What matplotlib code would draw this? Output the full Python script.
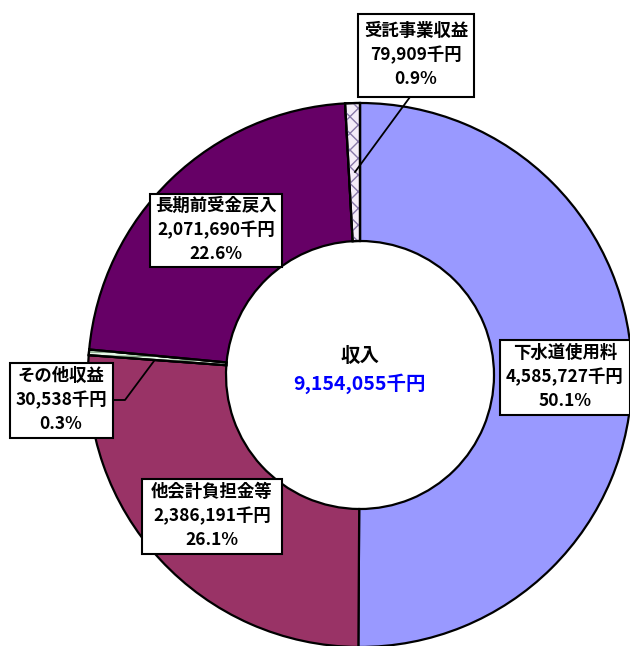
import matplotlib
matplotlib.use("Agg")
import matplotlib.pyplot as plt
from matplotlib.patches import Wedge

plt.rcParams['font.family'] = ['Noto Sans CJK JP', 'DejaVu Sans']

categories = ["下水道使用料", "他会計負担金等", "その他収益", "長期前受金戻入", "受託事業収益"]
values = [4585727, 2386191, 30538, 2071690, 79909]
pct_labels = ["50.1%", "26.1%", "0.3%", "22.6%", "0.9%"]
total_label = "9,154,055千円"
center_title = "収入"

colors = ["#9999FF", "#993366", "#E8F8E8", "#660066", "#F4ECF8"]
hatches = [None, None, "----", None, "xx"]
hatch_colors = [None, None, "#7FA07F", None, "#8878A8"]

W, H = 630, 646
fig = plt.figure(figsize=(W / 100, H / 100), dpi=100)
ax = fig.add_axes([0, 0, 1, 1])

cx, cy = 360, 375
R, r_in = 272, 134

# y axis is inverted (pixel coords), so startangle=-90 points up and
# counterclock=True runs clockwise on screen
wedges, _ = ax.pie(values, colors=colors, startangle=-90, counterclock=True,
                   center=(cx, cy), radius=R, frame=True,
                   wedgeprops=dict(width=R - r_in, edgecolor="black", linewidth=1.6))
ax.set_xlim(0, W)
ax.set_ylim(H, 0)
ax.set_aspect("equal")
ax.axis("off")

for w, h, hc in zip(wedges, hatches, hatch_colors):
    if h:
        ov = Wedge(w.center, w.r, w.theta1, w.theta2, width=w.width,
                   facecolor="none", edgecolor=hc, hatch=h, linewidth=0)
        ax.add_patch(ov)
        ol = Wedge(w.center, w.r, w.theta1, w.theta2, width=w.width,
                   facecolor="none", edgecolor="black", linewidth=1.6)
        ax.add_patch(ol)

# Center text
ax.text(cx, 357, center_title, ha="center", va="center", fontsize=14, fontweight="bold", color="black")
ax.text(cx, 384, total_label, ha="center", va="center", fontsize=14, fontweight="bold", color="#0000FF")

# Label boxes (pixel positions of box centres)
label_pos = [(565, 377), (212, 516), (61, 400), (216, 230), (416, 55)]
box_size = [(130, 75), (140, 75), (103, 75), (132, 73), (116, 83)]

# Leader lines
ax.plot([410, 355], [97, 172], color="black", lw=1.3, zorder=4)
ax.plot([113, 125, 154], [400, 400, 361], color="black", lw=1.3, zorder=4)

for cat, v, p, (x, y), (bw, bh) in zip(categories, values, pct_labels, label_pos, box_size):
    rect = plt.Rectangle((x - bw / 2, y - bh / 2), bw, bh, facecolor="white",
                         edgecolor="black", linewidth=1.5, zorder=5)
    ax.add_patch(rect)
    txt = f"{cat}\n{v:,}千円\n{p}"
    ax.text(x, y, txt, ha="center", va="center", fontsize=12.5, fontweight="bold",
            linespacing=1.38, zorder=6)

fig.savefig("out.png", dpi=100)
